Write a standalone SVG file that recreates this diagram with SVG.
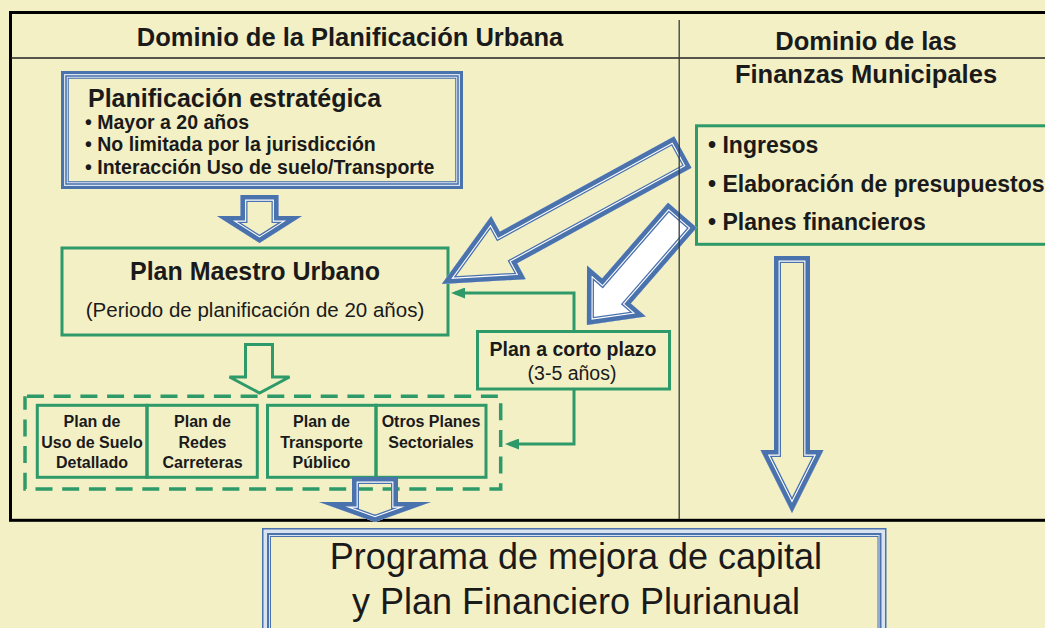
<svg xmlns="http://www.w3.org/2000/svg" xmlns:xlink="http://www.w3.org/1999/xlink" width="1045" height="628" viewBox="0 0 1045 628">
<style>
.t{font-family:"Liberation Sans",Arial,sans-serif;fill:#1a1a1a}
.b{font-weight:bold}
.m{text-anchor:middle}
.gbox{fill:none;stroke:#2e9a69;stroke-width:3}
.gline{fill:none;stroke:#2e9a69;stroke-width:3;stroke-linejoin:miter}
.acream{fill:#f3f0c6;stroke:none}
.awhite{fill:#ffffff;stroke:none}
.as1{fill:none;stroke:#4a72ad;stroke-width:14;stroke-linejoin:miter;stroke-miterlimit:10}
.as2{fill:none;stroke:#ffffff;stroke-width:11.4;stroke-linejoin:miter;stroke-miterlimit:10}
.as3{fill:none;stroke:#4a72ad;stroke-width:9.2;stroke-linejoin:miter;stroke-miterlimit:10}
</style>
<defs>
<marker id="gArrow" markerUnits="userSpaceOnUse" markerWidth="14" markerHeight="11" refX="10" refY="5.5" orient="auto" viewBox="0 0 14 11">
<path d="M0,0 L14,5.5 L0,11 Z" fill="#2e9a69"/>
</marker>
<polygon id="shpA1" points="0,-18 199,-18 199,-36 275,0 199,36 199,18 0,18"/>
<clipPath id="clA1"><use xlink:href="#shpA1" href="#shpA1"/></clipPath>
<polygon id="shpA2" points="0,-19 100.7,-19 100.7,-39 145.7,0 100.7,39 100.7,19 0,19"/>
<clipPath id="clA2"><use xlink:href="#shpA2" href="#shpA2"/></clipPath>
<polygon id="shpA3" points="0,-18 194,-18 194,-31.5 257,0 194,31.5 194,18 0,18"/>
<clipPath id="clA3"><use xlink:href="#shpA3" href="#shpA3"/></clipPath>
<polygon id="shpA4" points="0,-19 21,-19 21,-42.5 48,0 21,42.5 21,19 0,19"/>
<clipPath id="clA4"><use xlink:href="#shpA4" href="#shpA4"/></clipPath>
<polygon id="shpA5" points="0,-23 25,-23 25,-56 45,0 25,56 25,23 0,23"/>
<clipPath id="clA5"><use xlink:href="#shpA5" href="#shpA5"/></clipPath>
</defs>

<rect x="0" y="0" width="1045" height="628" fill="#f3f0c6"/>

<g id="frame">
<rect x="10.5" y="12.5" width="1060" height="507.8" fill="none" stroke="#000" stroke-width="3"/>
<line x1="11" y1="58" x2="1045" y2="58" stroke="#222" stroke-width="1.3"/>
</g>

<g id="header-urban">
<text class="t b m" x="350" y="46" font-size="25.5">Dominio de la Planificación Urbana</text>
</g>
<g id="header-finance">
<text class="t b m" x="866" y="50" font-size="25.5">Dominio de las</text>
<text class="t b m" x="866" y="83" font-size="25.5">Finanzas Municipales</text>
</g>

<g id="node-strategic">
<rect x="62.5" y="72.5" width="399" height="115" fill="#d9e3ef" stroke="#4a72ad" stroke-width="3"/>
<rect x="66" y="76" width="392" height="108" fill="#d9e3ef" stroke="#4a72ad" stroke-width="1.5"/>
<rect x="68.3" y="78.3" width="387.4" height="103.4" fill="#f3f0c6" stroke="#4a72ad" stroke-width="1"/>
<text class="t b" x="88" y="107" font-size="25">Planificación estratégica</text>
<text class="t b" x="85" y="128.5" font-size="19.5">• Mayor a 20 años</text>
<text class="t b" x="85" y="151" font-size="19.5">• No limitada por la jurisdicción</text>
<text class="t b" x="85" y="173.5" font-size="19.5">• Interacción Uso de suelo/Transporte</text>
</g>

<g id="node-master">
<rect class="gbox" x="62" y="248" width="386" height="87"/>
<text class="t b m" x="255" y="280" font-size="25">Plan Maestro Urbano</text>
<text class="t m" x="255" y="317" font-size="20.5">(Periodo de planificación de 20 años)</text>
</g>

<g id="node-short">
<rect class="gbox" x="477.5" y="331.5" width="192" height="57.5"/>
<text class="t b m" x="573" y="356" font-size="19.5">Plan a corto plazo</text>
<text class="t m" x="572" y="380" font-size="19.5">(3-5 años)</text>
</g>

<g id="node-sectoral">
<rect x="25" y="396.3" width="475.7" height="92.7" fill="none" stroke="#2e9a69" stroke-width="3.5" stroke-dasharray="17 9.7" stroke-dashoffset="-2"/>
<g id="node-landuse">
<rect class="gbox" x="37.3" y="405.3" width="109.7" height="72"/>
<text class="t b m" x="92" y="427" font-size="16">Plan de</text>
<text class="t b m" x="92" y="448" font-size="16">Uso de Suelo</text>
<text class="t b m" x="92" y="468" font-size="16">Detallado</text>
</g>
<g id="node-roads">
<rect class="gbox" x="147" y="405.3" width="110.3" height="72"/>
<text class="t b m" x="202.5" y="427" font-size="16">Plan de</text>
<text class="t b m" x="202.5" y="448" font-size="16">Redes</text>
<text class="t b m" x="202.5" y="468" font-size="16">Carreteras</text>
</g>
<g id="node-transit">
<rect class="gbox" x="267.5" y="405.3" width="108.5" height="72"/>
<text class="t b m" x="321.5" y="427" font-size="16">Plan de</text>
<text class="t b m" x="321.5" y="448" font-size="16">Transporte</text>
<text class="t b m" x="321.5" y="468" font-size="16">Público</text>
</g>
<g id="node-other">
<rect class="gbox" x="376" y="405.3" width="110" height="72"/>
<text class="t b m" x="431" y="427" font-size="16">Otros Planes</text>
<text class="t b m" x="431" y="448" font-size="16">Sectoriales</text>
</g>
</g>

<g id="node-finance">
<rect class="gbox" x="696.5" y="125.8" width="400" height="118.5"/>
<text class="t b" x="708" y="153" font-size="23">• Ingresos</text>
<text class="t b" x="708" y="192" font-size="23">• Elaboración de presupuestos</text>
<text class="t b" x="708" y="230" font-size="23">• Planes financieros</text>
</g>

<g id="node-capital">
<rect x="262.75" y="528.75" width="623" height="120" fill="#d9e3ef" stroke="#4a72ad" stroke-width="1.5"/>
<rect x="268" y="534" width="612.5" height="110" fill="#d9e3ef" stroke="#4a72ad" stroke-width="2"/>
<rect x="270.5" y="536.5" width="607.5" height="105" fill="#f3f0c6" stroke="#4a72ad" stroke-width="1"/>
<text class="t m" x="576" y="569" font-size="36">Programa de mejora de capital</text>
<text class="t m" x="576" y="614" font-size="36">y Plan Financiero Plurianual</text>
</g>

<g id="connectors">
<polygon class="gline" points="245.5,344.5 272.5,344.5 272.5,377 289.5,377 259.5,393 229.5,377 245.5,377"/>
<path class="gline" d="M574,331 V293 H455" marker-end="url(#gArrow)"/>
<path class="gline" d="M574,390 V444 H509" marker-end="url(#gArrow)"/>

<g id="arrow-strategic-master" transform="translate(259.5,195) rotate(90)" clip-path="url(#clA4)">
<use xlink:href="#shpA4" href="#shpA4" class="acream"/>
<use xlink:href="#shpA4" href="#shpA4" class="as1"/>
<use xlink:href="#shpA4" href="#shpA4" class="as2"/>
<use xlink:href="#shpA4" href="#shpA4" class="as3"/>
</g>
<g id="arrow-finance-master" transform="translate(683,152) rotate(151.3)" clip-path="url(#clA1)">
<use xlink:href="#shpA1" href="#shpA1" class="acream"/>
<use xlink:href="#shpA1" href="#shpA1" class="as1"/>
<use xlink:href="#shpA1" href="#shpA1" class="as2"/>
<use xlink:href="#shpA1" href="#shpA1" class="as3"/>
</g>
<g id="arrow-finance-short" transform="translate(682.5,215) rotate(131)" clip-path="url(#clA2)">
<use xlink:href="#shpA2" href="#shpA2" class="awhite"/>
<use xlink:href="#shpA2" href="#shpA2" class="as1"/>
<use xlink:href="#shpA2" href="#shpA2" class="as2"/>
<use xlink:href="#shpA2" href="#shpA2" class="as3"/>
</g>
<g id="arrow-finance-capital" transform="translate(792,256) rotate(90)" clip-path="url(#clA3)">
<use xlink:href="#shpA3" href="#shpA3" class="acream"/>
<use xlink:href="#shpA3" href="#shpA3" class="as1"/>
<use xlink:href="#shpA3" href="#shpA3" class="as2"/>
<use xlink:href="#shpA3" href="#shpA3" class="as3"/>
</g>
<g id="arrow-sectoral-capital" transform="translate(375,477) rotate(90)" clip-path="url(#clA5)">
<use xlink:href="#shpA5" href="#shpA5" class="as1"/>
<use xlink:href="#shpA5" href="#shpA5" class="as2"/>
<use xlink:href="#shpA5" href="#shpA5" class="as3"/>
</g>
</g>

<line id="divider" x1="679.2" y1="20" x2="679.2" y2="519" stroke="#3a3a3a" stroke-width="1.3"/>
</svg>
